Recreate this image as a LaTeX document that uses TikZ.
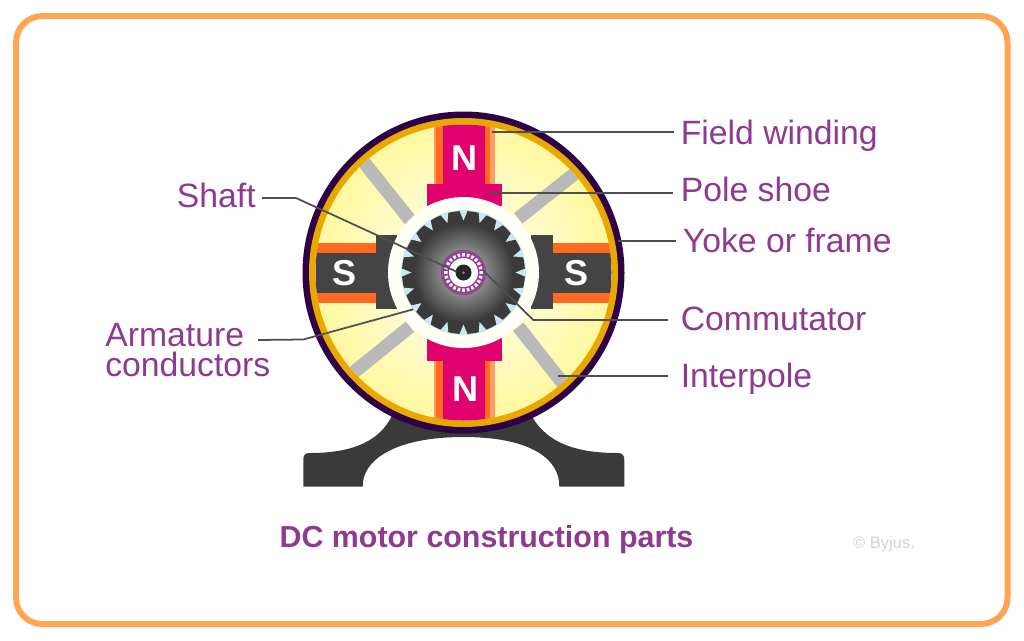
\documentclass[tikz,border=0pt]{standalone}
\usepackage{fontspec}
\setmainfont{Liberation Sans}
\usepackage{tikz}
\usetikzlibrary{calc}

\definecolor{labelpurple}{HTML}{8E3A8E}
\definecolor{framecol}{HTML}{FFA552}
\definecolor{yokedark}{HTML}{2E0045}
\definecolor{yokegold}{HTML}{E8A800}
\definecolor{fieldyellow}{HTML}{FFF8A0}
\definecolor{polepink}{HTML}{E0006E}
\definecolor{poledark}{HTML}{444444}
\definecolor{coilorange}{HTML}{FF6A20}
\definecolor{coillight}{HTML}{FF9C66}
\definecolor{slotblue}{HTML}{C9E9EF}
\definecolor{leadergray}{HTML}{4F4F4F}

\tikzset{
	partlabel/.style={text=labelpurple, font=\fontsize{19.2}{19.2}\selectfont, inner xsep=0pt, inner ysep=1pt},
	poleletter/.style={text=white, font=\fontsize{20.5}{20.5}\selectfont\bfseries, inner sep=0pt},
	leader/.style={draw=leadergray, line width=1pt},
}

\begin{document}
\begin{tikzpicture}[x=0.02cm, y=-0.02cm, line join=round]
	
	% ----------------------------
	% 0) Canvas and orange frame
	% ----------------------------
	\useasboundingbox (0,0) rectangle (1024,640);
	\draw[framecol, line width=3.4pt, rounded corners=15pt] (16,16) rectangle (1007.5,624);
	
	\def\Cx{463.5}
	\def\Cy{272.5}
	
	% ----------------------------
	% 1) Base
	% ----------------------------
	\fill[poledark!85!black]
	(391.7,416) .. controls (378,445) and (345,453) .. (310,453)
	.. controls (305,453) and (303.3,455) .. (303.3,460)
	-- (303.3,486.7) -- (362.7,486.7)
	.. controls (362,460) and (395,437) .. (463.5,437)
	.. controls (532,437) and (560,460) .. (559.3,486.7)
	-- (624.3,486.7) -- (624.3,460)
	.. controls (624.3,455) and (622,453) .. (618,453)
	.. controls (580,453) and (548,445) .. (531.7,416) -- cycle;
	
	% ----------------------------
	% 2) Yoke rings and field space
	% ----------------------------
	\fill[yokedark] (\Cx,\Cy) circle (161);
	\fill[yokegold] (\Cx,\Cy) circle (154.5);
	\shade[inner color=white, outer color=fieldyellow] (\Cx,\Cy) circle (148);
	
	\begin{scope}
		\clip (\Cx,\Cy) circle (148);
		
		% ----------------------------
		% 3) Interpoles
		% ----------------------------
		\draw[gray!55, line width=7.6pt] (410,220) -- (355,151);
		\draw[gray!55, line width=7.6pt] (518.3,218.3) -- (585,165.5);
		\draw[gray!55, line width=7.6pt] (410,326.7) -- (343,381);
		\draw[gray!55, line width=7.6pt] (518.3,326.7) -- (572,395);
		
		% ----------------------------
		% 4) N poles and coils
		% ----------------------------
		\foreach \ya/\yb in {120/184, 360.7/425}{
			\fill[coilorange] (434,\ya) rectangle (443.3,\yb);
			\fill[coillight] (434,\ya) rectangle (435.5,\yb);
			\fill[coilorange] (485,\ya) rectangle (495,\yb);
			\fill[coillight] (490,\ya) rectangle (495,\yb);
			\fill[polepink] (443.3,\ya) rectangle (485,\yb);
		}
		\fill[polepink] (427.3,184) rectangle (501.7,206);
		\fill[polepink] (427.3,338.3) rectangle (501.7,360.7);
		
		% ----------------------------
		% 5) S poles and coils
		% ----------------------------
		\foreach \xa/\xb in {312/376, 553.3/616}{
			\fill[coilorange] (\xa,242.7) rectangle (\xb,252.7);
			\fill[coilorange] (\xa,293.3) rectangle (\xb,303.3);
			\fill[poledark] (\xa,252.7) rectangle (\xb,293.3);
		}
		\fill[poledark] (376,235) rectangle (397.3,309.3);
		\fill[poledark] (530.7,235) rectangle (553.3,309.3);
	\end{scope}
	
	\node[poleletter] (northtop) at (464,158) {N};
	\node[poleletter] (northbottom) at (465,389) {N};
	\node[poleletter] (southleft) at (344.3,273) {S};
	\node[poleletter] (southright) at (576.7,273) {S};
	
	% ----------------------------
	% 6) Air gap and armature
	% ----------------------------
	\fill[white!92!fieldyellow] (\Cx,\Cy) circle (75.5);
	
	\begin{scope}[shift={(\Cx,\Cy)}]
		\fill[slotblue] (0,0) circle (62.5);
		\fill[poledark!85!black] (0,0) circle (61.5);
		\shade[inner color=gray!45, outer color=poledark!85!black] (0,0) circle (50);
		\foreach \a in {0,18,...,342}{
			\fill[slotblue] (\a-3.8:62) -- (\a:52) -- (\a+3.8:62) -- cycle;
		}
		
		% ----------------------------
		% 7) Commutator and shaft
		% ----------------------------
		\draw[labelpurple, line width=0.6pt] (0,0) circle (22);
		\fill[labelpurple] (0,0) circle (21);
		\foreach \a in {0,15,...,345}{
			\fill[white!90!labelpurple] (\a-4.5:16) -- (\a-4.5:19.5) -- (\a+4.5:19.5) -- (\a+4.5:16) -- cycle;
		}
		\fill[white] (0,0) circle (14.5);
		\fill[black!85] (0,0) circle (8);
		\fill[gray] (0,0) circle (1.5);
	\end{scope}
	
	% ----------------------------
	% 8) Labels
	% ----------------------------
	\node[partlabel, anchor=west] (fieldwinding) at (680.5,136) {Field winding};
	\node[partlabel, anchor=west] (poleshoe) at (680.5,189) {Pole shoe};
	\node[partlabel, anchor=west] (yoke) at (682.5,240) {Yoke or frame};
	\node[partlabel, anchor=west] (commutator) at (680.5,319) {Commutator};
	\node[partlabel, anchor=west] (interpole) at (680.5,379) {Interpole};
	\node[partlabel, anchor=east] (shaft) at (256,195) {Shaft};
	\node[partlabel, anchor=west, align=left, font=\fontsize{19.2}{17}\selectfont] (armature) at (105,350) {Armature\\conductors};
	
	\node[text=labelpurple, font=\fontsize{17.3}{17.3}\selectfont\bfseries, inner sep=0pt] (title) at (486.5,540) {DC motor construction parts};
	\node[text=gray!35, font=\fontsize{9.4}{9.4}\selectfont, inner sep=0pt] (credit) at (884,544) {© Byjus.};
	
	% ----------------------------
	% 9) Leader lines
	% ----------------------------
	\coordinate (cField) at (491.7,132.3);
	\coordinate (cShoe) at (490,192.7);
	\coordinate (cYoke) at (618,240.7);
	\coordinate (cComm) at (483.3,270.7);
	\coordinate (cInter) at (558.3,376);
	\coordinate (cShaft) at (456.7,271.7);
	\coordinate (cArm) at (413.3,309.3);
	\coordinate (cArmStart) at (258,340);
	
	\draw[leader, shorten >=3.5pt] (cField) -- (cField -| fieldwinding.west);
	\draw[leader, shorten >=4pt] (cShoe) -- (cShoe -| poleshoe.west);
	\draw[leader, shorten >=3.5pt] (cYoke) -- (cYoke -| yoke.west);
	\draw[leader, shorten >=7pt] (cComm) -- (533.3,320) -- (commutator.west |- 0,320);
	\draw[leader, shorten >=7pt] (cInter) -- (cInter -| interpole.west);
	\draw[leader, shorten <=3.5pt] (shaft.east |- 0,198) -- (296,198) -- (cShaft);
	\draw[leader] (cArmStart) -- (303.3,339.5) -- (cArm);
	
\end{tikzpicture}
\end{document}
